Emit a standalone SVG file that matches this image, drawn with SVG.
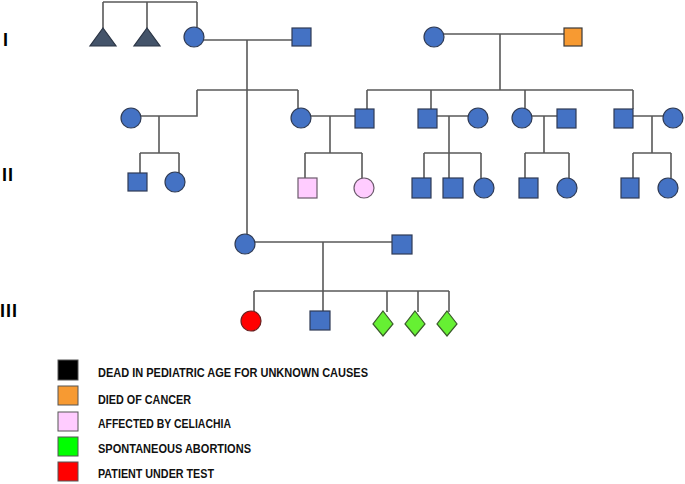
<svg xmlns="http://www.w3.org/2000/svg" width="685" height="484" viewBox="0 0 685 484">
<style>
.ln{stroke:#595959;stroke-width:1.6;fill:none}
.b{fill:#4472C4;stroke:#2F3B55;stroke-width:1.2}
.tri{fill:#44546A;stroke:#2a3444;stroke-width:1.2}
.or{fill:#F79A32;stroke:#3a3a3a;stroke-width:1.2}
.pk{fill:#FFCCFF;stroke:#6b5a6b;stroke-width:1.2}
.gr{fill:#66F033;stroke:#3a5a2a;stroke-width:1.2}
.rd{fill:#FF0000;stroke:#6a2020;stroke-width:1.2}
.gen{font-family:"Liberation Sans",Arial,sans-serif;font-weight:bold;font-size:18px;fill:#000}
.lg{font-family:"Liberation Sans",Arial,sans-serif;font-weight:bold;font-size:12px;fill:#111}
.lb{stroke:#555;stroke-width:1}
</style>
<rect width="685" height="484" fill="#fff"/>
<g id="gen-labels">
<text class="gen" x="3" y="46">I</text>
<text class="gen" x="2" y="181" letter-spacing="1">II</text>
<text class="gen" x="0" y="317" letter-spacing="1">III</text>
</g>
<g id="connectors">
<path class="ln" d="M103 2H197M103 2V28M147 2V28M197 2V27"/>
<path class="ln" d="M204 40H292M247 40V234"/>
<path class="ln" d="M197 90H298M197 90V116H141M298 90V108"/>
<path class="ln" d="M159 116V153M140 153H179M140 153V173M179 153V178"/>
<path class="ln" d="M444 34H564M500 34V90"/>
<path class="ln" d="M367 90H633M367 90V109M431 90V109M525 90V108M633 90V109"/>
<path class="ln" d="M311 116H355M330 116V153M305 153H362M305 153V178M362 153V178"/>
<path class="ln" d="M437 116H468M449 116V178M424 153H481M424 153V178M481 153V178"/>
<path class="ln" d="M532 116H557M544 116V153M525 153H569M525 153V178M569 153V178"/>
<path class="ln" d="M633 116H663M652 116V153M633 153H671M633 153V178M671 153V178"/>
<path class="ln" d="M255 242H392M323 242V311M254 291H449M254 291V311M387 291V312M418 291V312M449 291V312"/>
</g>
<g id="n-tri1"><polygon class="tri" points="103,28 116,46 90,46"/></g>
<g id="n-tri2"><polygon class="tri" points="147,28 160,46 134,46"/></g>
<g id="n-I-f1"><circle class="b" cx="194" cy="37" r="10"/></g>
<g id="n-I-m1"><rect class="b" x="292" y="28" width="19" height="18"/></g>
<g id="n-I-f2"><circle class="b" cx="434" cy="37" r="10"/></g>
<g id="n-I-m2"><rect class="or" x="564" y="28" width="18" height="18"/></g>
<g id="n-II-f1"><circle class="b" cx="131" cy="118" r="10"/></g>
<g id="n-II-f2"><circle class="b" cx="301" cy="118" r="10"/></g>
<g id="n-II-m2"><rect class="b" x="355" y="109" width="19" height="19"/></g>
<g id="n-II-m3"><rect class="b" x="418" y="109" width="19" height="19"/></g>
<g id="n-II-f3"><circle class="b" cx="478" cy="118" r="10"/></g>
<g id="n-II-f4"><circle class="b" cx="522" cy="118" r="10"/></g>
<g id="n-II-m4"><rect class="b" x="557" y="109" width="19" height="19"/></g>
<g id="n-II-m5"><rect class="b" x="614" y="109" width="19" height="19"/></g>
<g id="n-II-f5"><circle class="b" cx="673" cy="118" r="10"/></g>
<g id="n-c1a"><rect class="b" x="128" y="173" width="19" height="18"/></g>
<g id="n-c1b"><circle class="b" cx="175" cy="182" r="10"/></g>
<g id="n-c2a"><rect class="pk" x="298" y="178" width="19" height="20"/></g>
<g id="n-c2b"><circle class="pk" cx="364" cy="188" r="10"/></g>
<g id="n-c3a"><rect class="b" x="412" y="178" width="19" height="20"/></g>
<g id="n-c3b"><rect class="b" x="443" y="178" width="20" height="20"/></g>
<g id="n-c3c"><circle class="b" cx="484" cy="188" r="10"/></g>
<g id="n-c4a"><rect class="b" x="519" y="178" width="19" height="20"/></g>
<g id="n-c4b"><circle class="b" cx="567" cy="188" r="10"/></g>
<g id="n-c5a"><rect class="b" x="621" y="178" width="18" height="20"/></g>
<g id="n-c5b"><circle class="b" cx="668" cy="188" r="10"/></g>
<g id="n-III-f"><circle class="b" cx="245" cy="244" r="10"/></g>
<g id="n-III-m"><rect class="b" x="392" y="235" width="20" height="19"/></g>
<g id="n-patient"><circle class="rd" cx="251" cy="321" r="10"/></g>
<g id="n-brother"><rect class="b" x="310" y="311" width="20" height="19"/></g>
<g id="n-ab1"><polygon class="gr" points="383,311 393,324 383,336 373,324"/></g>
<g id="n-ab2"><polygon class="gr" points="415,311 425,324 415,336 405,324"/></g>
<g id="n-ab3"><polygon class="gr" points="447,311 457,324 447,336 437,324"/></g>
<g id="legend">
<rect class="lb" x="58" y="360" width="20" height="20" fill="#000"/>
<rect class="lb" x="58" y="386" width="20" height="19" fill="#F79A32"/>
<rect class="lb" x="58" y="412" width="20" height="19" fill="#FFCCFF"/>
<rect class="lb" x="58" y="437" width="20" height="19" fill="#00FF00"/>
<rect class="lb" x="58" y="462" width="20" height="19" fill="#FF0000"/>
<text class="lg" x="98" y="377" textLength="270" lengthAdjust="spacingAndGlyphs">DEAD IN PEDIATRIC AGE FOR UNKNOWN CAUSES</text>
<text class="lg" x="98" y="404" textLength="93" lengthAdjust="spacingAndGlyphs">DIED OF CANCER</text>
<text class="lg" x="98" y="428" textLength="133" lengthAdjust="spacingAndGlyphs">AFFECTED BY CELIACHIA</text>
<text class="lg" x="98" y="453" textLength="153" lengthAdjust="spacingAndGlyphs">SPONTANEOUS ABORTIONS</text>
<text class="lg" x="98" y="478" textLength="116" lengthAdjust="spacingAndGlyphs">PATIENT UNDER TEST</text>
</g>
</svg>
